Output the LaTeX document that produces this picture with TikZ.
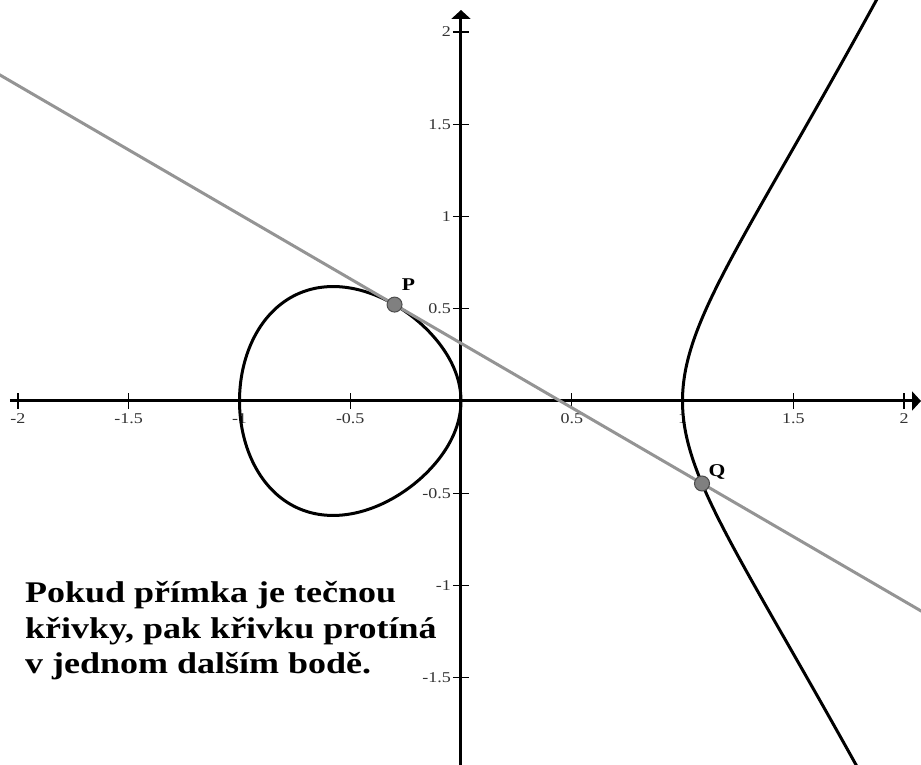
\documentclass[tikz,border=0pt]{standalone}
\usepackage{fontspec}
\usepackage{graphicx}
\setmainfont{Liberation Serif}
\usetikzlibrary{arrows.meta}
\begin{document}
\begin{tikzpicture}[x=221.5pt,y=184.5pt,
  axisline/.style={line width=3pt, -{Triangle[length=9pt,width=19pt]}},
  tickmark/.style={line width=1.3pt},
  ticklab/.style={font=\fontsize{15}{15}\selectfont, text=black!80, inner sep=0pt},
  curveline/.style={line width=3pt, draw=black, line join=round},
  tangentline/.style={line width=3pt, draw=black!42},
  dotnode/.style={circle, fill=black!50, draw=black!70, line width=1pt, minimum size=15pt, inner sep=0pt},
  dotlab/.style={font=\fontsize{18}{18}\selectfont\bfseries, inner sep=0pt},
  captionline/.style={font=\fontsize{30}{36}\selectfont\bfseries, anchor=base west, inner sep=0pt}]
\useasboundingbox (-461pt,-364pt) rectangle (460pt,401pt);
% axes
\coordinate (xs) at (-451pt,0);
\coordinate (xe) at (460pt,0);
\coordinate (ys) at (0,-364pt);
\coordinate (ye) at (0,391pt);
\draw[axisline] (xs) -- (xe);
\draw[axisline] (ys) -- (ye);
% ticks
\foreach \v in {-2,-1.5,-1,-0.5,0.5,1,1.5,2}{
  \draw[tickmark] ([yshift=-8pt]\v,0) -- ([yshift=8pt]\v,0);
  \node[ticklab, anchor=north] (tx\v) at ([yshift=-12pt]\v,0) {\scalebox{1.2}[1]{\v}};
}
\foreach \v in {-1.5,-1,-0.5,0.5,1,1.5,2}{
  \draw[tickmark] ([xshift=-8pt]0,\v) -- ([xshift=8pt]0,\v);
  \node[ticklab, anchor=east] (ty\v) at ([xshift=-10pt]0,\v) {\scalebox{1.2}[1]{\v}};
}
% curve and tangent
\begin{scope}
\clip (-461pt,-364pt) rectangle (460pt,401pt);
\draw[curveline] plot[domain=0:360, samples=240, variable=\t, smooth]
  ({-(1+cos(\t))/2}, {sin(\t)/2*sqrt((3+cos(\t))/2)}) -- cycle;
\draw[curveline] plot[domain=-0.97:0.97, samples=200, variable=\s, smooth]
  ({1+\s*\s}, {\s*sqrt((1+\s*\s)*(2+\s*\s))});
\coordinate (L1) at (-2.1,1.7799);
\coordinate (L2) at (2.1,-1.1541);
\draw[tangentline] (L1) -- (L2);
\end{scope}
% points
\node[dotnode] (P) at (-0.3,0.52249) {};
\node[dotnode] (Q) at (1.08801,-0.44715) {};
\node[dotlab] (Pl) at ([xshift=14pt,yshift=20pt]P) {\scalebox{1.2}[1]{P}};
\node[dotlab] (Ql) at ([xshift=15pt,yshift=11pt]Q) {\scalebox{1.2}[1]{Q}};
% caption
\node[captionline] (c1) at (-436pt,-201pt) {\scalebox{1.2}[1]{Pokud přímka je tečnou}};
\node[captionline] (c2) at (-436pt,-237pt) {\scalebox{1.2}[1]{křivky, pak křivku protíná}};
\node[captionline] (c3) at (-436pt,-272pt) {\scalebox{1.2}[1]{v jednom dalším bodě.}};
\end{tikzpicture}
\end{document}
